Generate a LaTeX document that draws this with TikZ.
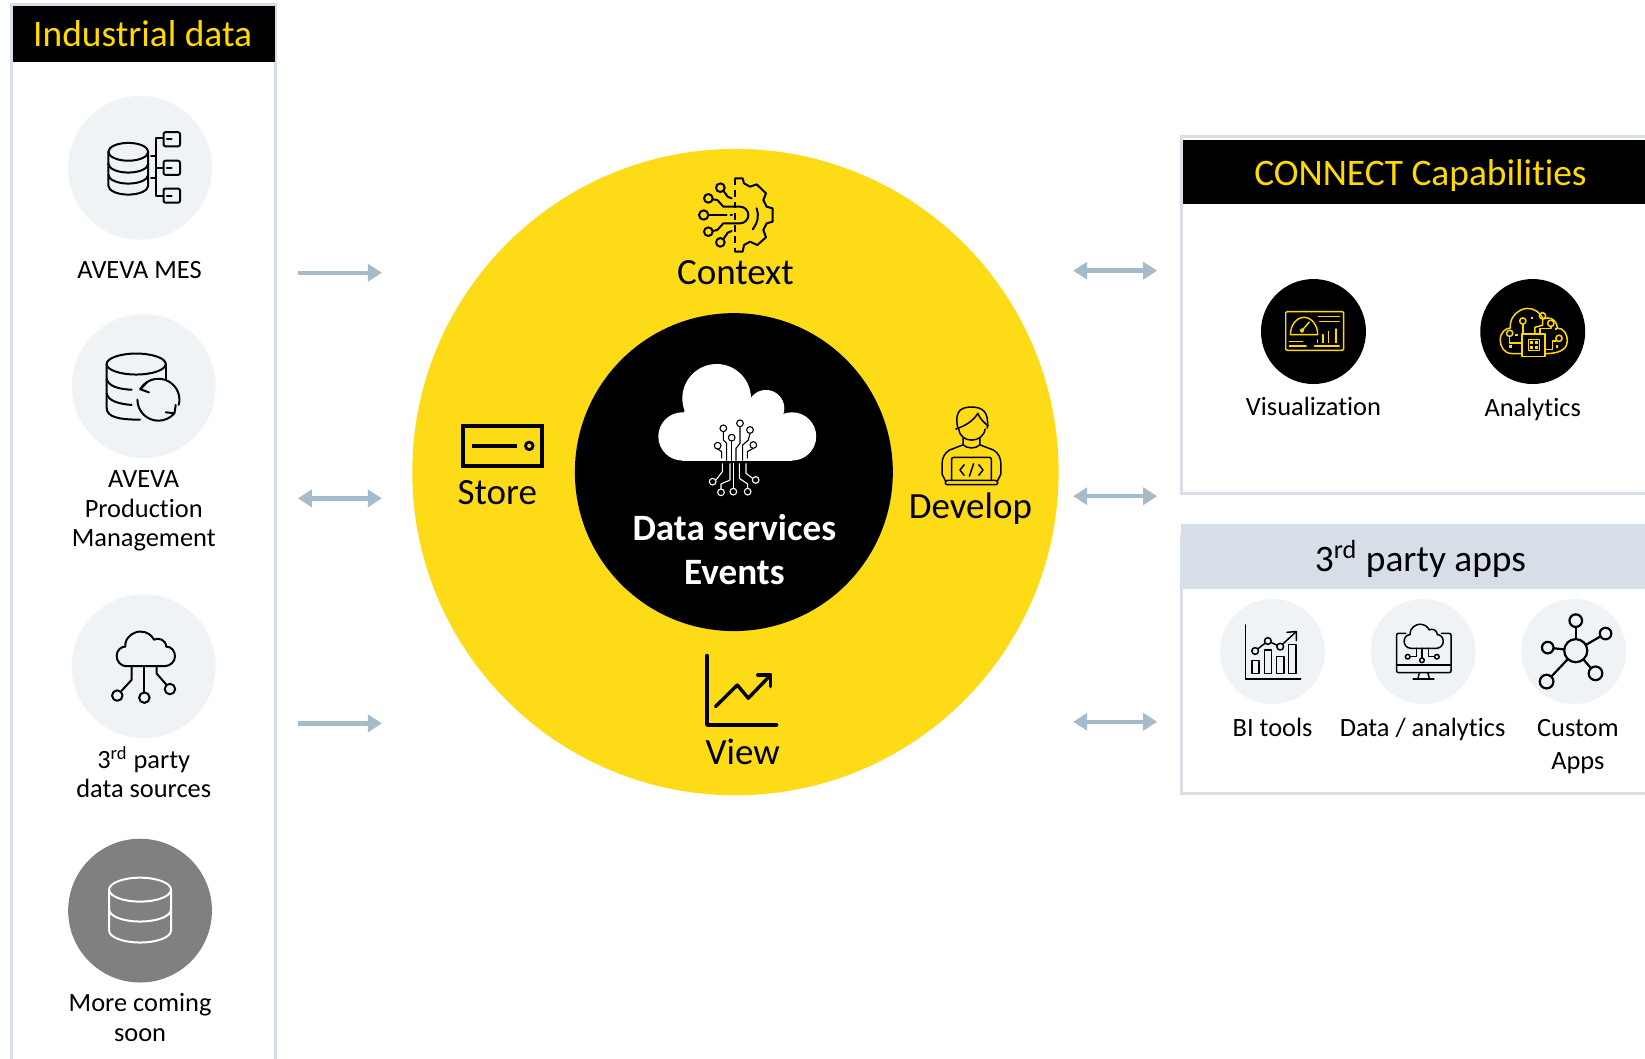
\documentclass[tikz,border=0pt]{standalone}
\usepackage{fontspec}
\setmainfont[Ligatures=NoCommon]{Carlito}
\usetikzlibrary{arrows.meta}
\definecolor{ayellow}{HTML}{FEDB17}
\definecolor{hyellow}{HTML}{FFD900}
\definecolor{pborder}{HTML}{D6DFE7}
\definecolor{disc}{HTML}{F0F3F6}
\definecolor{arrowc}{HTML}{A5BBCA}
\newcommand{\myCloud}{(18,60) .. controls (5,60) and (0,50) .. (0,42) .. controls (0,32) and (8,26) .. (15,26) .. controls (13,10) and (30,0) .. (40,0) .. controls (52,0) and (60,6) .. (64,14) .. controls (72,10) and (84,14) .. (85,26) .. controls (95,26) and (100,35) .. (100,43) .. controls (100,52) and (92,60) .. (82,60) -- cycle}
\tikzset{
  x=0.5246pt,y=-0.5246pt,
  lbl/.style={font=\fontsize{13.2}{14.7}\selectfont,align=center,text=black,inner sep=0pt},
  lblwide/.style={font=\fontsize{13.2}{16.3}\selectfont,align=center,text=black,inner sep=0pt},
  ringlbl/.style={font=\fontsize{18.5}{21}\selectfont,align=center,text=black,inner sep=0pt},
  headlbl/.style={font=\fontsize{18.7}{21}\selectfont,align=center,inner sep=0pt},
  corelbl/.style={font=\fontsize{18.6}{22}\selectfont\bfseries,align=center,text=white,inner sep=0pt},
  bigdisc/.style={circle,inner sep=0pt,minimum size=71.9pt,fill=disc},
  smalldisc/.style={circle,inner sep=0pt,minimum size=52.5pt,fill=disc},
  blackdisc/.style={circle,inner sep=0pt,minimum size=52.5pt,fill=black},
  ico/.style={line width=1pt,line cap=round,line join=round},
  thin ico/.style={line width=0.75pt,line cap=round,line join=round},
  oneway/.style={draw=arrowc,line width=2.2pt,-{Triangle[length=7pt,width=8.5pt]}},
  twoway/.style={draw=arrowc,line width=2.2pt,{Triangle[length=7pt,width=8.5pt]}-{Triangle[length=7pt,width=8.5pt]}},
}
\begin{document}
\begin{tikzpicture}
\useasboundingbox (0,0) rectangle (1568,1009.4);
\fill[white] (0,0) rectangle (1568,1009.4);

%% ---------- left panel
\draw[pborder,line width=1.5pt] (10.5,1009.4) -- (10.5,4) -- (263,4) -- (263,1009.4);
\fill[black] (12,6) rectangle (262,59);
\node[headlbl,text=hyellow] (hleft) at (136,32) {Industrial data};

\node[bigdisc] (dmes) at (133.5,160) {};
\node[bigdisc] (dapm) at (137,368) {};
\node[bigdisc] (dthird) at (137,635) {};
\node[bigdisc,fill=black!50] (dmore) at (133.5,868) {};

\node[lbl] (lmes) at (133,257) {AVEVA MES};
\node[lbl] (lapm) at (137,487) {AVEVA\\Production\\Management};
\node[lbl] (lthird) at (137,736) {3\textsuperscript{rd} party\\data sources};
\node[lbl] (lmore) at (133.5,970) {More coming\\soon};

% MES icon
\begin{scope}[ico]
  \draw (122.3,144.7) ellipse[x radius=19,y radius=8.5];
  \draw (103.3,144.7) -- (103.3,177) arc[start angle=180,end angle=0,x radius=19,y radius=8.5] -- (141.3,144.7);
  \draw (103.3,156) arc[start angle=180,end angle=0,x radius=19,y radius=8.5];
  \draw (103.3,166.5) arc[start angle=180,end angle=0,x radius=19,y radius=8.5];
  \draw (154.7,132) -- (148.4,132) -- (148.4,187) -- (154.7,187);
  \draw (148.4,159.7) -- (154.7,159.7);
  \draw (144,149) -- (148.4,149);
  \draw (144,170) -- (148.4,170);
  \foreach \yy in {126,153.2,179.7}{
    \draw[rounded corners=1pt] (155.9,\yy) rectangle (171.6,\yy+13.5);
    \draw (159,\yy+6.7) -- (163.5,\yy+6.7);
  }
\end{scope}

% APM icon
\begin{scope}[ico]
  \draw (129.8,347) ellipse[x radius=28.2,y radius=10];
  \draw (158,347) -- (158,362);
  \draw (133.4,400) .. controls (115,400) and (101.7,398) .. (101.7,389) -- (101.7,347);
  \draw (101.7,361) .. controls (103,368) and (113,371) .. (125.5,371.5);
  \draw (101.7,375) .. controls (103,382) and (113,385) .. (125.5,386);
  \draw (151,381) ++(-150:20) arc[start angle=-150,end angle=14,radius=20];
  \draw (151,381) ++(180:20) arc[start angle=180,end angle=40,radius=20];
  \draw (140,364.5) -- (133.7,371) -- (142,374);
  \draw (158,393) -- (166.3,393.9) -- (167.5,386);
\end{scope}

% third party cloud icon
\begin{scope}[ico]
  \begin{scope}[shift={(111.2,602)},xscale=0.556,yscale=0.55]
    \draw \myCloud;
  \end{scope}
  \draw (125.5,635) -- (125.5,648) -- (116,658.3);
  \draw (137.6,635) -- (137.6,660);
  \draw (149.3,635) -- (149.3,642) -- (158.9,653);
  \draw (111.8,663) circle[radius=5];
  \draw (137.6,665) circle[radius=5];
  \draw (162,656.8) circle[radius=5];
\end{scope}

% more coming cylinder
\begin{scope}[ico,draw=white]
  \draw (133.5,848) ellipse[x radius=29.5,y radius=11.4];
  \draw (104,848) -- (104,887) arc[start angle=180,end angle=0,x radius=29.5,y radius=11.4] -- (163,848);
  \draw (104,867) arc[start angle=180,end angle=0,x radius=29.5,y radius=11.4];
\end{scope}

%% ---------- central rings
\node[circle,fill=ayellow,inner sep=0pt,minimum size=323.2pt] (ring) at (701,450) {};
\node[circle,fill=black,inner sep=0pt,minimum size=159pt] (core) at (699.5,450) {};

% central cloud
\fill[white] (650.5,416) circle[radius=23];
\fill[white] (683.1,379.7) circle[radius=32.7];
\fill[white] (730.1,389.2) circle[radius=17.5];
\fill[white] (755,416) circle[radius=23];
\fill[white] (650.5,405) rectangle (755,439);
\fill[white] (652,392) rectangle (740,420);
% circuit in the cloud, on the zoomed scale
\begin{scope}[shift={(533.8,143)},scale=0.3177]
  \begin{scope}[black,line width=0.55pt,line join=round]
    \draw (490,845) -- (490,870) -- (500,880) -- (500,932);
    \draw (515,873) -- (515,932);
    \draw (540,830) -- (540,880) -- (528,895) -- (528,932);
    \draw (570,850) -- (565,870) -- (548,885) -- (548,932);
    \draw (580,895) -- (562,905) -- (562,925);
    \draw (473,897) -- (485,905) -- (485,925);
    \foreach \px/\py in {490/835,540/820,570/840,515/863,473/887,580/885}
      \draw (\px,\py) circle[radius=10];
  \end{scope}
  \begin{scope}[white,line width=0.55pt,line join=round]
    \draw (487,940) -- (487,965) -- (468,990);
    \draw (510,940) -- (510,990) -- (483,1002) -- (483,1017);
    \draw (520,940) -- (520,1015);
    \draw (538,940) -- (538,985) -- (563,1002) -- (563,1015);
    \draw (558,940) -- (558,970) -- (578,985);
    \foreach \px/\py in {458/995,483/1027,520/1025,563/1025,587/990}
      \draw (\px,\py) circle[radius=10];
  \end{scope}
\end{scope}
\node[corelbl] (lcore) at (700,524) {Data services\\Events};

% Context icon
\begin{scope}[shift={(533.8,143)},scale=0.3177,ico]
  \draw[dash pattern=on 3.4pt off 2.4pt,line cap=butt] (525,85) -- (525,305);
  \draw (525,85) -- (548,85) -- (552,100) -- (570,110) -- (590,103) -- (618,130) -- (610,150) -- (620,170) -- (638,175) -- (638,215) -- (620,220) -- (610,240) -- (618,262) -- (592,285) -- (570,275) -- (552,285) -- (548,305) -- (525,305);
  \draw (431,195) circle[radius=14];
  \draw (445,145) circle[radius=13];
  \draw (445,245) circle[radius=13];
  \draw (481,113) circle[radius=13];
  \draw (481,277) circle[radius=13];
  \draw (445,195) -- (500,195);
  \draw (512,195) -- (516,195);
  \draw (458,148) -- (472,150) -- (490,170) -- (540,170) arc[start angle=-90,end angle=90,radius=25] -- (490,220) -- (472,240) -- (458,243);
  \draw (490,122) -- (503,140) -- (515,145);
  \draw (490,268) -- (503,248) -- (515,243);
  \draw (590,175) .. controls (597,195) and (595,215) .. (578,238);
\end{scope}
\node[ringlbl] (lcontext) at (701,260) {Context};

% Store icon
\draw[line width=1.9pt,miter limit=10] (441,406) rectangle (517,444.5);
\draw[line width=2.2pt] (450,425) -- (493,425);
\draw[line width=1.4pt] (504.5,425) circle[radius=3.6];
\node[ringlbl] (lstore) at (474,470) {Store};

% Develop icon
\begin{scope}[thin ico]
  \draw (913,408) .. controls (909,390) and (918,388) .. (926,388) .. controls (936,388) and (943,392) .. (941,408);
  \draw (911,409) .. controls (920,406) and (928,401) .. (932,394) .. controls (934,399) and (938,403) .. (942,406);
  \draw (914,409) .. controls (915,423) and (937,423) .. (939,409);
  \draw (918,418) -- (918,424) .. controls (922,428) and (930,428) .. (934,424) -- (934,418);
  \draw (918,424) -- (905,429) .. controls (900,432) and (898,437) .. (898,442) -- (898,452) -- (901,458);
  \draw (934,424) -- (947,429) .. controls (952,432) and (954,437) .. (954,442) -- (954,452) -- (951,458);
  \draw[rounded corners=1pt] (907,458) -- (907,436) -- (945,436) -- (945,458);
  \draw[rounded corners=1pt] (901,458) rectangle (951,462);
  \draw (919,443) -- (915,448) -- (919,453);
  \draw (933,443) -- (937,448) -- (933,453);
  \draw (928,442) -- (924,454);
\end{scope}
\node[ringlbl] (ldevelop) at (925,485) {Develop};

% View icon
\draw[line width=2pt,line cap=round,line join=round] (674,625) -- (674,691) -- (740,691);
\draw[line width=1.7pt,line cap=round,line join=round] (682,673.5) -- (702.8,653) -- (713.3,665.5) -- (733,645);
\draw[line width=1.7pt,line cap=round,line join=round] (722.3,643.3) -- (734.7,643.3) -- (734.7,654.5);
\node[ringlbl] (lview) at (708,717) {View};

%% ---------- arrows
\coordinate (la1) at (284,260); \coordinate (lb1) at (364,260);
\coordinate (la2) at (284,475); \coordinate (lb2) at (364,475);
\coordinate (la3) at (284,689.5); \coordinate (lb3) at (364,689.5);
\coordinate (ra1) at (1023,258); \coordinate (rb1) at (1103,258);
\coordinate (ra2) at (1023,473); \coordinate (rb2) at (1103,473);
\coordinate (ra3) at (1023,688); \coordinate (rb3) at (1103,688);
\draw[oneway] (la1) -- (lb1);
\draw[twoway] (la2) -- (lb2);
\draw[oneway] (la3) -- (lb3);
\draw[twoway] (ra1) -- (rb1);
\draw[twoway] (ra2) -- (rb2);
\draw[twoway] (ra3) -- (rb3);

%% ---------- CONNECT capabilities
\draw[pborder,line width=1.5pt] (1572,130.5) -- (1126.5,130.5) -- (1126.5,470.5) -- (1572,470.5);
\fill[black] (1128,133) rectangle (1568,194);
\node[headlbl,text=hyellow] (hconn) at (1354,167) {CONNECT Capabilities};
\node[blackdisc] (dvis) at (1252,316) {};
\node[blackdisc] (dana) at (1461,316) {};
\node[lbl] (lvis) at (1252,387) {Visualization};
\node[lbl] (lana) at (1461,390) {Analytics};

% Visualization icon
\begin{scope}[draw=hyellow,line width=0.7pt,line cap=round,line join=round]
  \draw[rounded corners=0.6pt] (1225.6,297) rectangle (1280.7,334);
  \draw (1230,319) arc[start angle=180,end angle=360,x radius=13,y radius=16.5] -- cycle;
  \draw (1241,315) -- (1248,307);
  \draw (1241,315) circle[radius=1.6];
  \draw (1256.5,301.8) -- (1276.5,301.8);
  \draw (1258,306.6) -- (1276.5,306.6);
  \draw (1255.9,326.6) -- (1255.9,324);
  \draw (1261,326.6) -- (1261,319);
  \draw (1266.5,326.6) -- (1266.5,316);
  \draw (1273.6,326.6) -- (1273.6,313.6);
  \draw (1229,325.7) -- (1241.6,325.7);
  \draw (1229,329.8) -- (1245,329.8);
  \draw (1253,329.8) -- (1276.5,329.8);
\end{scope}

% Analytics icon
\begin{scope}[draw=hyellow,line width=0.75pt,line cap=round,line join=round]
  \begin{scope}[shift={(1430,294)},xscale=0.64,yscale=0.717]
    \draw (32,60) -- (18,60) .. controls (5,60) and (0,50) .. (0,42) .. controls (0,32) and (8,26) .. (15,26) .. controls (13,10) and (30,0) .. (40,0) .. controls (52,0) and (60,6) .. (64,14) .. controls (72,10) and (84,14) .. (85,26) .. controls (95,26) and (100,35) .. (100,43) .. controls (100,52) and (92,60) .. (68,60);
  \end{scope}
  \draw[fill=black] (1450.8,318.4) rectangle (1472.8,340);
  \draw (1456.8,323.5) rectangle (1467.5,334.3);
  \fill[hyellow] (1458.6,325.3) rectangle (1461.6,328.3);
  \fill[hyellow] (1462.8,325.3) rectangle (1465.8,328.3);
  \fill[hyellow] (1458.6,329.6) rectangle (1461.6,332.6);
  \fill[hyellow] (1462.8,329.6) rectangle (1465.8,332.6);
  \draw (1439,320.5) -- (1439,327) -- (1450.8,327);
  \draw (1451.5,309) -- (1451.5,318.4);
  \draw (1470.3,304) -- (1470.3,310) -- (1463,312) -- (1463,318.4);
  \draw (1478.2,311) -- (1478.2,313) -- (1468,313) -- (1468,318.4);
  \draw (1483,325) -- (1480,325) -- (1480,333) -- (1472.8,333);
  \draw (1439,317.7) circle[radius=3];
  \draw (1451.5,306) circle[radius=3];
  \draw (1470.3,301) circle[radius=3];
  \draw (1478.2,308.2) circle[radius=3];
  \draw (1486,322.5) circle[radius=3];
  \fill[hyellow] (1438,329) rectangle (1441,332);
  \fill[hyellow] (1459,302) rectangle (1461.5,304.5);
  \fill[hyellow] (1444,318) rectangle (1446.5,320.5);
  \fill[hyellow] (1482,312.5) rectangle (1484.5,315);
  \fill[hyellow] (1483,329) rectangle (1485.5,331.5);
\end{scope}

%% ---------- 3rd party apps
\draw[pborder,line width=1.5pt] (1572,756) -- (1126.5,756) -- (1126.5,510);
\fill[pborder] (1126,499) rectangle (1568,561);
\node[headlbl,text=black] (hthird) at (1354,533) {3\textsuperscript{rd} party apps};
\node[smalldisc] (dbi) at (1213,621) {};
\node[smalldisc] (dda) at (1356.5,621) {};
\node[smalldisc] (dcu) at (1500,621) {};
\node[lbl] (lbi) at (1213,693) {BI tools};
\node[lbl] (lda) at (1356,695) {Data / analytics};
\node[lblwide] (lcu) at (1504,711.5) {Custom\\Apps};

% BI tools icon
\begin{scope}[thin ico]
  \draw (1187.2,595.7) -- (1187.2,647) -- (1239.8,647);
  \draw (1193.6,629.7) rectangle (1200,641.8);
  \draw (1205.3,619.5) rectangle (1212,641.8);
  \draw (1216.7,625.9) rectangle (1223.8,641.8);
  \draw (1228,614.1) rectangle (1235.2,641.8);
  \draw[fill=disc] (1196.4,620.5) circle[radius=3.2];
  \draw[fill=disc] (1208.5,611) circle[radius=3.2];
  \draw[fill=disc] (1220.3,616.4) circle[radius=3.2];
  \draw (1198.9,618.5) -- (1206,613);
  \draw (1211.5,612.4) -- (1217.3,615);
  \draw (1222.6,614) -- (1235.6,602);
  \draw (1226.7,602.7) -- (1235.6,602) -- (1235.6,610.6);
\end{scope}

% Data / analytics icon
\begin{scope}[thin ico]
  \draw (1340,603.7) -- (1333,603.7) .. controls (1331.6,603.7) and (1331.2,604.5) .. (1331.2,606) -- (1331.2,639) .. controls (1331.2,640.5) and (1332,641.1) .. (1333,641.1) -- (1381,641.1) .. controls (1382.6,641.1) and (1383.2,640.5) .. (1383.2,639) -- (1383.2,606) .. controls (1383.2,604.5) and (1382.6,603.7) .. (1381,603.7) -- (1374,603.7);
  \draw (1331.2,633.8) -- (1383.2,633.8);
  \draw (1353,641.1) -- (1351.5,647);
  \draw (1361,641.1) -- (1362.5,647);
  \draw (1347,647) -- (1366.8,647);
  \begin{scope}[shift={(1338.4,595)},xscale=0.373,yscale=0.383]
    \draw \myCloud;
  \end{scope}
  \draw (1355.4,618) -- (1355.4,627);
  \draw (1350,618) -- (1350,626) -- (1344.5,626);
  \draw (1361.8,618) -- (1361.8,626) -- (1367.2,626);
  \draw (1341.8,626) circle[radius=2.2];
  \draw (1355.4,629.4) circle[radius=2.2];
  \draw (1369.6,626) circle[radius=2.2];
\end{scope}

% Custom apps icon
\begin{scope}[line width=1.1pt,line cap=round]
  \draw (1502,620.2) -- (1502,591.6);
  \draw (1502,620.2) -- (1530.4,603.9);
  \draw (1502,620.2) -- (1475.3,617.3);
  \draw (1502,620.2) -- (1520.8,641.8);
  \draw (1502,620.2) -- (1474.2,649.7);
  \draw[fill=disc] (1502,620.2) circle[radius=11];
  \draw[fill=disc] (1502,591.6) circle[radius=6];
  \draw[fill=disc] (1530.4,603.9) circle[radius=5.5];
  \draw[fill=disc] (1475.3,617.3) circle[radius=5.5];
  \draw[fill=disc] (1520.8,641.8) circle[radius=6.5];
  \draw[fill=disc] (1474.2,649.7) circle[radius=6.5];
\end{scope}
\end{tikzpicture}
\end{document}
